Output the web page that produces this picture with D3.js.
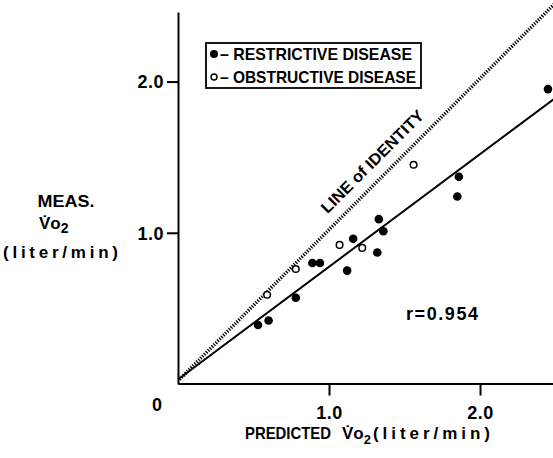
<!DOCTYPE html>
<html>
<head>
<meta charset="utf-8">
<script src="https://cdn.jsdelivr.net/npm/d3@7"></script>
<style>
  body { margin: 0; background: #fff; }
  text { font-family: "Liberation Sans", Arial, sans-serif; fill: #000; }
</style>
</head>
<body>
<div id="chart"></div>
<script>
// values (liter/min)
var restrictiveX = [0.53, 0.60, 0.78, 0.89, 0.94, 1.12, 1.16, 1.32, 1.33, 1.36, 1.85, 1.86, 2.45];
var restrictiveY = [0.39, 0.42, 0.57, 0.80, 0.80, 0.75, 0.96, 0.87, 1.09, 1.01, 1.24, 1.37, 1.95];
var obstructiveX = [0.59, 0.78, 1.07, 1.22, 1.56];
var obstructiveY = [0.59, 0.76, 0.92, 0.90, 1.45];
var tickValues = [1.0, 2.0];
var regression = { intercept: 0.03, slope: 0.745 };
var rLabel = "r=0.954";

var width = 553, height = 458;

var svg = d3.select("#chart").append("svg")
  .attr("width", width)
  .attr("height", height);

var x = d3.scaleLinear().domain([0, 2.49]).range([178, 554]);
var y = d3.scaleLinear().domain([0, 2.46]).range([384, 12]);

// axes
var xAxis = d3.axisBottom(x).tickValues(tickValues).tickSize(12).tickSizeOuter(0)
  .tickPadding(11).tickFormat(d3.format(".1f"));
var yAxis = d3.axisLeft(y).tickValues(tickValues).tickSize(11).tickSizeOuter(0)
  .tickPadding(3).tickFormat(d3.format(".1f"));

var gx = svg.append("g").attr("transform", "translate(0," + (y(0) - 0.5) + ")").call(xAxis);
var gy = svg.append("g").attr("transform", "translate(" + x(0) + ",0)").call(yAxis);

[gx, gy].forEach(function (g) {
  g.select(".domain").attr("stroke", "#000").attr("stroke-width", 2);
  g.selectAll(".tick line").attr("stroke", "#000").attr("stroke-width", 2);
  g.selectAll(".tick text")
    .attr("font-size", "18px")
    .attr("font-weight", "bold")
    .attr("letter-spacing", "0.5px")
    .attr("font-family", "Liberation Sans, Arial, sans-serif")
    .attr("fill", "#000");
});
gy.selectAll(".tick text").attr("dy", "0.35em");

svg.append("text")
  .attr("x", x(0) - 21)
  .attr("y", y(0) + 27)
  .attr("text-anchor", "middle")
  .attr("font-size", "18px")
  .attr("font-weight", "bold")
  .text("0");

// line of identity (dotted)
var ident = d3.line().x(function (d) { return x(d); }).y(function (d) { return y(d + 0.02); });
svg.append("path")
  .datum([0.01, 2.5])
  .attr("d", ident)
  .attr("fill", "none")
  .attr("stroke", "#000")
  .attr("stroke-width", 3.5)
  .attr("stroke-dasharray", "1.3,1.4");

// regression line
var reg = d3.line()
  .x(function (d) { return x(d); })
  .y(function (d) { return y(regression.intercept + regression.slope * d); });
svg.append("path")
  .datum([0.0, 2.5])
  .attr("d", reg)
  .attr("fill", "none")
  .attr("stroke", "#000")
  .attr("stroke-width", 2);

// points
svg.append("g").selectAll("circle")
  .data(restrictiveX)
  .enter().append("circle")
  .attr("cx", function (d) { return x(d); })
  .attr("cy", function (d, i) { return y(restrictiveY[i]); })
  .attr("r", 4.3)
  .attr("fill", "#000");

svg.append("g").selectAll("circle")
  .data(obstructiveX)
  .enter().append("circle")
  .attr("cx", function (d) { return x(d); })
  .attr("cy", function (d, i) { return y(obstructiveY[i]); })
  .attr("r", 3.3)
  .attr("fill", "#fff")
  .attr("stroke", "#000")
  .attr("stroke-width", 1.5);

// label along the identity line
var lx = x(1.32), ly = y(1.34);
svg.append("text")
  .attr("transform", "translate(" + (lx - 1) + "," + (ly - 16) + ") rotate(-45)")
  .attr("text-anchor", "middle")
  .attr("font-size", "16px")
  .attr("font-weight", "bold")
  .attr("textLength", 138)
  .attr("lengthAdjust", "spacingAndGlyphs")
  .text("LINE of IDENTITY");

// correlation
svg.append("text")
  .attr("x", 406)
  .attr("y", 320)
  .attr("font-size", "18px")
  .attr("font-weight", "bold")
  .attr("textLength", 72)
  .attr("lengthAdjust", "spacing")
  .text(rLabel);

// legend
var legend = svg.append("g");
legend.append("rect")
  .attr("x", 206).attr("y", 43)
  .attr("width", 215).attr("height", 45)
  .attr("fill", "#fff")
  .attr("stroke", "#000")
  .attr("stroke-width", 1.8);
legend.append("circle").attr("cx", 214).attr("cy", 54).attr("r", 4).attr("fill", "#000");
legend.append("circle").attr("cx", 214).attr("cy", 77).attr("r", 3).attr("fill", "#fff")
  .attr("stroke", "#000").attr("stroke-width", 1.4);
legend.append("text").attr("x", 220).attr("y", 60)
  .attr("font-size", "17px").attr("font-weight", "bold")
  .attr("textLength", 192).attr("lengthAdjust", "spacingAndGlyphs")
  .text("\u2013 RESTRICTIVE DISEASE");
legend.append("text").attr("x", 220).attr("y", 83)
  .attr("font-size", "17px").attr("font-weight", "bold")
  .attr("textLength", 196).attr("lengthAdjust", "spacingAndGlyphs")
  .text("\u2013 OBSTRUCTIVE DISEASE");

// y axis title
var ylab = svg.append("g");
ylab.append("text").attr("x", 66).attr("y", 207)
  .attr("text-anchor", "middle").attr("font-size", "17px").attr("font-weight", "bold")
  .attr("textLength", 57).attr("lengthAdjust", "spacingAndGlyphs")
  .text("MEAS.");
var yv = ylab.append("text").attr("x", 39).attr("y", 229)
  .attr("font-size", "17px").attr("font-weight", "bold");
yv.append("tspan").text("V\u0307o");
yv.append("tspan").attr("dy", 4).attr("font-size", "14px").text("2");
ylab.append("text").attr("x", 3).attr("y", 258)
  .attr("font-size", "17px").attr("font-weight", "bold")
  .attr("textLength", 115).attr("lengthAdjust", "spacing")
  .text("(liter/min)");

// x axis title
var xlab = svg.append("g");
xlab.append("text").attr("x", 245).attr("y", 439)
  .attr("font-size", "17px").attr("font-weight", "bold")
  .attr("textLength", 86).attr("lengthAdjust", "spacingAndGlyphs")
  .text("PREDICTED");
var xv = xlab.append("text").attr("x", 342).attr("y", 439)
  .attr("font-size", "17px").attr("font-weight", "bold");
xv.append("tspan").text("V\u0307o");
xv.append("tspan").attr("dy", 5).attr("font-size", "13px").text("2");
xlab.append("text").attr("x", 373).attr("y", 439)
  .attr("font-size", "17px").attr("font-weight", "bold")
  .attr("textLength", 117).attr("lengthAdjust", "spacing")
  .text("(liter/min)");
</script>
</body>
</html>
